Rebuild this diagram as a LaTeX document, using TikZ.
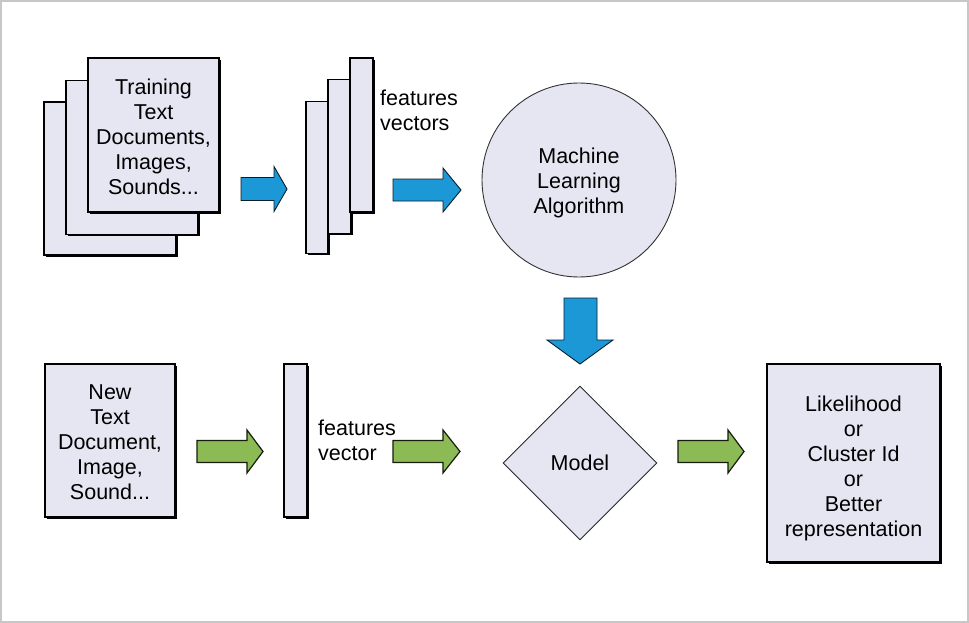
\documentclass[tikz,border=0pt]{standalone}
\usepackage{fontspec}
\setmainfont{Liberation Sans}
\usetikzlibrary{shapes.geometric,shadows}
\definecolor{lav}{HTML}{E6E6F3}
\definecolor{bluef}{HTML}{1B98D5}
\definecolor{greenf}{HTML}{8CBB56}
\newcommand\rarrow[7]{%
  \draw[#7] (#1,{#4-#5}) -- (#2,{#4-#5}) -- (#2,{#4-#6}) -- (#3,#4) -- (#2,{#4+#6}) -- (#2,{#4+#5}) -- (#1,{#4+#5}) -- cycle;}
\begin{document}
\begin{tikzpicture}[x=1pt,y=-1pt,
  txt/.style={font=\fontsize{21.5}{25}\selectfont, align=center},
  page/.style={draw=black, line width=1.1pt, fill=lav, inner sep=0pt, txt,
    drop shadow={shadow xshift=1.6pt, shadow yshift=-1.6pt, fill=black, opacity=1}},
  bluearrow/.style={fill=bluef, draw=black!80!bluef, line width=0.9pt, line join=miter},
  greenarrow/.style={fill=greenf, draw=black!85!greenf, line width=1.2pt, line join=miter}]
\useasboundingbox (0,0) rectangle (969,623);
\draw[black!22, line width=2pt] (1,1) rectangle (968,622);

% training pages stack
\node[page, minimum width=132, minimum height=153] (tr3) at (110,178.5) {};
\node[page, minimum width=132, minimum height=154] (tr2) at (132,157.5) {};
\node[page, minimum width=131, minimum height=154] (tr1) at (153.5,135) {};
\node[txt] (tr1t) at (153.5,137) {Training\\Text\\Documents,\\Images,\\Sounds...};

% feature vectors stack
\node[page, minimum width=22, minimum height=152] (fv3) at (317,177.5) {};
\node[page, minimum width=23, minimum height=154] (fv2) at (339.5,156.5) {};
\node[page, minimum width=23, minimum height=154] (fv1) at (361.5,135) {};
\node[txt, align=left, anchor=west, inner sep=0pt] (fvl) at (380,110) {features\\vectors};

% algorithm circle
\node[circle, draw=black!80, line width=0.9pt, fill=lav, minimum size=194, inner sep=0pt] (mla) at (579,180) {};
\node[txt] (mlat) at (579,182.5) {Machine\\Learning\\Algorithm};

% bottom row
\node[page, minimum width=130, minimum height=153] (newd) at (110,440.5) {};
\node[txt] (newdt) at (110,442.5) {New\\Text\\Document,\\Image,\\Sound...};
\node[page, minimum width=23, minimum height=153] (fv) at (295.5,440.5) {};
\node[txt, align=left, anchor=west, inner sep=0pt] (fvlb) at (318,440) {features\\vector};
\node[diamond, draw=black!85, line width=0.9pt, fill=lav, minimum width=154, minimum height=154, inner sep=0pt, txt] (model) at (580,463) {Model};
\node[page, minimum width=173, minimum height=198] (out) at (853.5,463) {};
\node[txt] (outt) at (853.5,468) {Likelihood\\or\\Cluster Id\\or\\Better\\representation};

% blue arrows
\rarrow{241}{274}{287}{189}{11.5}{22.5}{bluearrow}
\rarrow{393}{443}{461}{190}{11}{22}{bluearrow}
\draw[bluearrow] (564,298) -- (597,298) -- (597,340) -- (613,340) -- (580,364) -- (547,340) -- (564,340) -- cycle;

% green arrows
\rarrow{197}{247}{263}{451.5}{11}{21.5}{greenarrow}
\rarrow{393}{443}{460}{451.5}{11}{21.5}{greenarrow}
\rarrow{678}{728}{744}{451.5}{11}{21.5}{greenarrow}
\end{tikzpicture}
\end{document}
